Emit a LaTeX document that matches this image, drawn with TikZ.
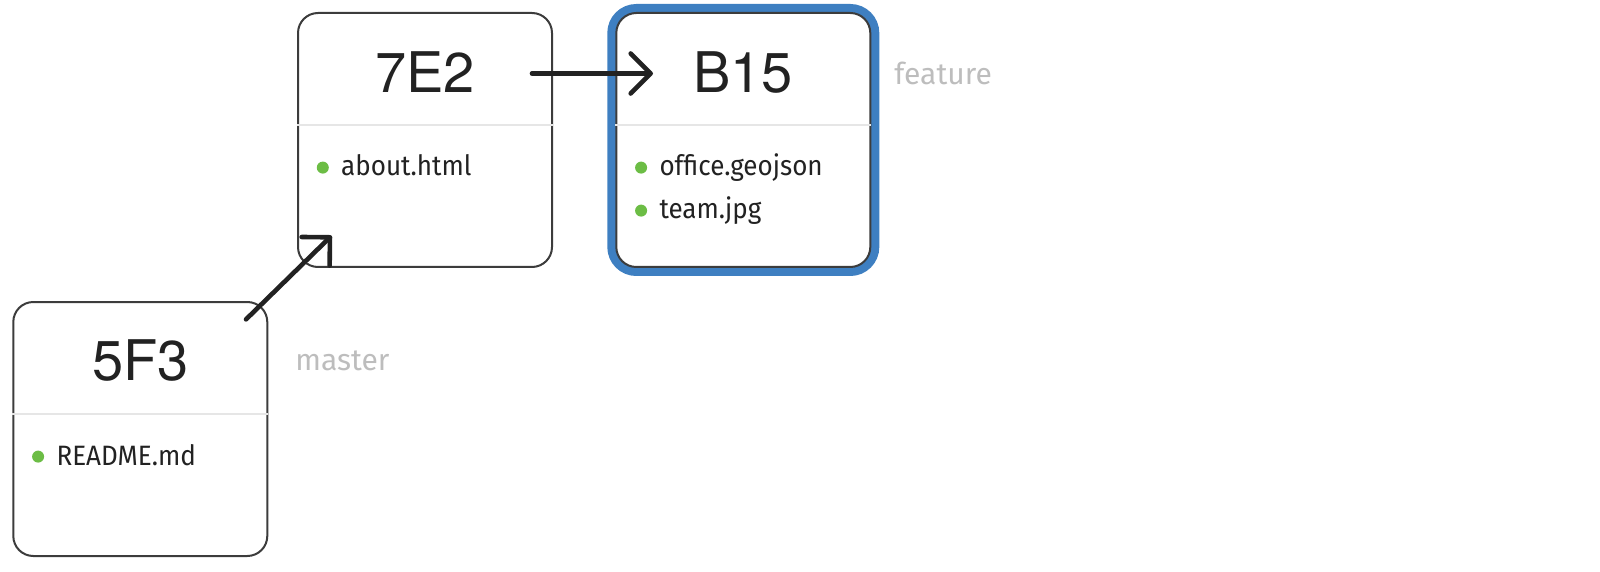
\documentclass[tikz,border=0pt]{standalone}
\usepackage{fontspec}
\setmainfont{Fira Sans}
\newfontfamily\titlefont{TeX Gyre Heros}
\newfontfamily\itemfont[FakeStretch=0.93]{Fira Sans}
\usetikzlibrary{arrows.meta}
\definecolor{boxline}{HTML}{3C3C3C}
\definecolor{divline}{HTML}{E6E6E6}
\definecolor{inktext}{HTML}{222222}
\definecolor{dotgreen}{HTML}{6CBD45}
\definecolor{labelgray}{HTML}{BDBDBD}
\definecolor{featblue}{HTML}{3E7FC1}
\tikzset{
  commit/.style={draw=boxline, line width=1pt, rounded corners=10pt, minimum width=127pt, minimum height=127pt, fill=white, inner sep=0pt},
  ring/.style={draw=featblue, line width=4.5pt, rounded corners=12.25pt, minimum width=131.5pt, minimum height=131.5pt, inner sep=0pt},
  divider/.style={draw=divline, line width=1pt},
  title/.style={font=\titlefont\fontsize{28}{34}\selectfont, text=inktext, inner sep=0pt},
  item/.style={font=\itemfont\fontsize{14}{17}\selectfont, text=inktext, inner sep=0pt, anchor=base west},
  dot/.style={circle, fill=dotgreen, minimum size=6pt, inner sep=0pt},
  branch/.style={font=\fontsize{15}{18}\selectfont, text=labelgray, inner sep=0pt, anchor=base west},
  link/.style={draw=inktext, line width=2.3pt, line cap=round, -{Straight Barb[length=10pt,width=20pt,round]}}
}
\begin{document}
\begin{tikzpicture}[x=0.5pt,y=-0.5pt]
\useasboundingbox (0,0) rectangle (1600,572);
% boxes
\node[commit] (c5F3) at (140.3,429) {};
\node[commit] (c7E2) at (425,140) {};
\node[ring] (ringB15) at (743.3,140) {};
\node[commit] (cB15) at (743.3,140) {};
% dividers
\foreach \b in {c5F3,c7E2,cB15}{
  \draw[divider] ([yshift=-56.5pt]\b.north west) -- ([yshift=-56.5pt]\b.north east);
}
% titles
\node[title] (t5F3) at ([yshift=-30pt]c5F3.north) {5F3};
\node[title] (t7E2) at ([yshift=-30.25pt]c7E2.north) {7E2};
\node[title] (tB15) at ([yshift=-30.25pt]cB15.north) {B15};
% items
\node[dot] (d5F3a) at ([xshift=12.9pt,yshift=-77.8pt]c5F3.north west) {};
\node[item] (i5F3a) at ([xshift=21.9pt,yshift=-82pt]c5F3.north west) {README.md};
\node[dot] (d7E2a) at ([xshift=12.9pt,yshift=-77.8pt]c7E2.north west) {};
\node[item] (i7E2a) at ([xshift=21.9pt,yshift=-82pt]c7E2.north west) {about.html};
\node[dot] (dB15a) at ([xshift=12.9pt,yshift=-77.8pt]cB15.north west) {};
\node[item] (iB15a) at ([xshift=21.9pt,yshift=-82pt]cB15.north west) {office.geojson};
\node[dot] (dB15b) at ([xshift=12.9pt,yshift=-99.3pt]cB15.north west) {};
\node[item] (iB15b) at ([xshift=21.9pt,yshift=-103.5pt]cB15.north west) {team.jpg};
% branch labels
\node[branch] (lfeature) at (894,84.3) {feature};
\node[branch] (lmaster) at (295,370) {master};
% arrows
\coordinate (a1s) at (246,319.4);
\coordinate (a1e) at (331.6,235.7);
\coordinate (a2s) at (532,73.5);
\coordinate (a2e) at (653,73.5);
\draw[link] (a1s) -- (a1e);
\draw[link] (a2s) -- (a2e);
\end{tikzpicture}
\end{document}
